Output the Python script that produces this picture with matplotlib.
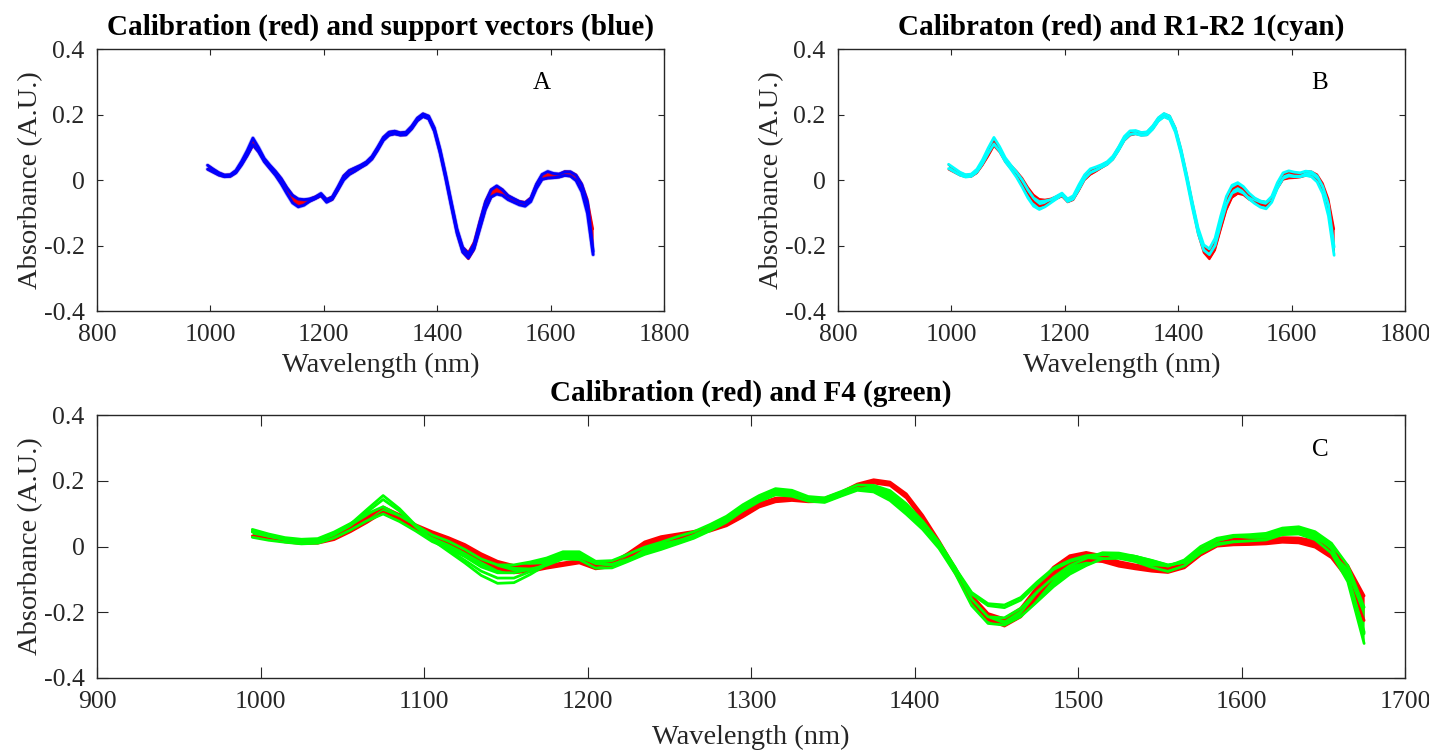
import numpy as np
import matplotlib
matplotlib.use("Agg")
import matplotlib.pyplot as plt

plt.rcParams['font.family'] = ['Liberation Serif', 'DejaVu Serif']

# ---------------------------------------------------------------- data
wavelength = np.arange(995, 1676, 10)  # nm, sampling grid of the spectra

# calibration set (red): lower / upper envelope of the spectra
cal_lo = [0.032, 0.023, 0.014, 0.009, 0.010, 0.021, 0.045, 0.073, 0.104, 0.085, 0.055,
          0.034, 0.013, -0.012, -0.040, -0.066, -0.080, -0.076, -0.066, -0.058, -0.050,
          -0.068, -0.061, -0.032, 0.000, 0.016, 0.026, 0.037, 0.047, 0.063, 0.090,
          0.120, 0.136, 0.140, 0.136, 0.137, 0.155, 0.180, 0.193, 0.186, 0.148,
          0.082, 0.003, -0.082, -0.165, -0.222, -0.242, -0.214, -0.152, -0.092, -0.054,
          -0.042, -0.046, -0.060, -0.068, -0.075, -0.079, -0.065, -0.026, 0.001, 0.005,
          0.006, 0.008, 0.013, 0.011, -0.002, -0.034, -0.098, -0.225]
cal_hi = [0.046, 0.034, 0.023, 0.016, 0.017, 0.030, 0.056, 0.086, 0.120, 0.097, 0.066,
          0.045, 0.027, 0.006, -0.022, -0.045, -0.058, -0.060, -0.057, -0.050, -0.042,
          -0.058, -0.050, -0.020, 0.014, 0.030, 0.038, 0.046, 0.056, 0.073, 0.101,
          0.131, 0.147, 0.150, 0.145, 0.147, 0.165, 0.190, 0.203, 0.196, 0.160,
          0.095, 0.017, -0.067, -0.149, -0.204, -0.220, -0.188, -0.123, -0.063, -0.028,
          -0.018, -0.028, -0.046, -0.056, -0.064, -0.067, -0.053, -0.011, 0.017, 0.023,
          0.019, 0.019, 0.027, 0.026, 0.017, -0.010, -0.058, -0.150]

# support vectors (blue)
sv_lo = [0.033, 0.024, 0.015, 0.010, 0.011, 0.022, 0.046, 0.075, 0.108, 0.086, 0.056,
         0.035, 0.014, -0.012, -0.042, -0.070, -0.082, -0.077, -0.065, -0.057, -0.047,
         -0.068, -0.059, -0.030, 0.000, 0.017, 0.027, 0.038, 0.048, 0.064, 0.091,
         0.121, 0.137, 0.141, 0.137, 0.138, 0.156, 0.181, 0.194, 0.187, 0.149,
         0.083, 0.004, -0.081, -0.163, -0.220, -0.238, -0.210, -0.150, -0.090, -0.052,
         -0.043, -0.047, -0.060, -0.068, -0.076, -0.080, -0.066, -0.026, 0.002, 0.006,
         0.007, 0.009, 0.014, 0.012, -0.002, -0.036, -0.102, -0.228]
sv_hi = [0.045, 0.033, 0.022, 0.015, 0.016, 0.029, 0.057, 0.090, 0.128, 0.099, 0.066,
         0.045, 0.026, 0.004, -0.024, -0.047, -0.058, -0.060, -0.058, -0.052, -0.041,
         -0.060, -0.052, -0.021, 0.012, 0.029, 0.037, 0.045, 0.055, 0.072, 0.100,
         0.130, 0.146, 0.149, 0.144, 0.146, 0.164, 0.189, 0.202, 0.195, 0.159,
         0.094, 0.016, -0.068, -0.150, -0.206, -0.226, -0.196, -0.130, -0.068, -0.030,
         -0.018, -0.030, -0.048, -0.057, -0.066, -0.070, -0.056, -0.013, 0.017, 0.026,
         0.020, 0.018, 0.025, 0.025, 0.014, -0.014, -0.068, -0.218]

# R1-R2 1 set (cyan)
r12_lo = [0.035, 0.025, 0.015, 0.009, 0.011, 0.024, 0.050, 0.082, 0.110, 0.088, 0.056,
          0.033, 0.008, -0.022, -0.055, -0.080, -0.090, -0.082, -0.070, -0.058, -0.046,
          -0.066, -0.058, -0.028, 0.004, 0.022, 0.030, 0.039, 0.048, 0.064, 0.091,
          0.122, 0.139, 0.141, 0.136, 0.138, 0.155, 0.180, 0.193, 0.185, 0.146,
          0.080, 0.000, -0.085, -0.162, -0.214, -0.228, -0.200, -0.135, -0.075, -0.040,
          -0.032, -0.040, -0.058, -0.072, -0.083, -0.088, -0.068, -0.025, 0.005, 0.012,
          0.010, 0.010, 0.014, 0.010, -0.006, -0.042, -0.110, -0.230]
r12_hi = [0.048, 0.036, 0.024, 0.016, 0.018, 0.033, 0.062, 0.098, 0.130, 0.102, 0.068,
          0.045, 0.024, 0.000, -0.030, -0.055, -0.066, -0.064, -0.060, -0.050, -0.040,
          -0.058, -0.048, -0.014, 0.016, 0.034, 0.040, 0.047, 0.056, 0.073, 0.101,
          0.133, 0.150, 0.151, 0.145, 0.147, 0.165, 0.190, 0.203, 0.195, 0.158,
          0.094, 0.016, -0.068, -0.146, -0.198, -0.210, -0.178, -0.110, -0.050, -0.016,
          -0.008, -0.020, -0.040, -0.055, -0.064, -0.068, -0.050, -0.008, 0.022, 0.028,
          0.024, 0.022, 0.027, 0.025, 0.012, -0.020, -0.075, -0.205]

# F4 set (green): main envelope plus two outlying spectra
f4_lo = [0.028, 0.019, 0.013, 0.008, 0.010, 0.026, 0.050, 0.078, 0.099, 0.076, 0.047,
         0.015, -0.006, -0.031, -0.062, -0.080, -0.080, -0.069, -0.057, -0.038, -0.040,
         -0.066, -0.065, -0.045, -0.024, -0.009, 0.008, 0.025, 0.048, 0.074, 0.109,
         0.137, 0.157, 0.153, 0.138, 0.134, 0.153, 0.171, 0.166, 0.140, 0.098,
         0.052, -0.006, -0.083, -0.180, -0.234, -0.239, -0.213, -0.168, -0.122, -0.084,
         -0.058, -0.037, -0.036, -0.046, -0.063, -0.076, -0.059, -0.020, 0.005, 0.014,
         0.017, 0.020, 0.036, 0.038, 0.021, -0.020, -0.107, -0.295]
f4_hi = [0.052, 0.038, 0.027, 0.022, 0.024, 0.044, 0.070, 0.099, 0.121, 0.094, 0.065,
         0.035, 0.016, -0.009, -0.038, -0.056, -0.056, -0.047, -0.035, -0.016, -0.016,
         -0.045, -0.043, -0.023, -0.002, 0.013, 0.030, 0.045, 0.067, 0.092, 0.127,
         0.155, 0.176, 0.171, 0.152, 0.148, 0.167, 0.187, 0.186, 0.170, 0.130,
         0.077, 0.014, -0.064, -0.160, -0.214, -0.217, -0.188, -0.138, -0.094, -0.058,
         -0.036, -0.019, -0.020, -0.030, -0.046, -0.060, -0.041, 0.000, 0.025, 0.034,
         0.036, 0.040, 0.056, 0.060, 0.045, 0.010, -0.058, -0.185]
f4_out1 = [0.046, 0.033, 0.022, 0.016, 0.018, 0.038, 0.068, 0.112, 0.155, 0.115, 0.064,
           0.020, -0.015, -0.050, -0.088, -0.112, -0.110, -0.085, -0.055, -0.035, -0.030,
           -0.052, -0.056, -0.040, -0.020, -0.004, 0.014, 0.032, 0.056, 0.082, 0.116,
           0.146, 0.166, 0.162, 0.146, 0.142, 0.158, 0.175, 0.170, 0.145, 0.105,
           0.060, 0.004, -0.070, -0.145, -0.180, -0.186, -0.163, -0.115, -0.070, -0.046,
           -0.030, -0.025, -0.025, -0.030, -0.042, -0.056, -0.048, -0.012, 0.018, 0.030,
           0.032, 0.035, 0.050, 0.052, 0.035, -0.005, -0.090, -0.260]
f4_out2 = [0.044, 0.031, 0.021, 0.015, 0.017, 0.036, 0.064, 0.104, 0.143, 0.108, 0.060,
           0.022, -0.010, -0.042, -0.075, -0.096, -0.096, -0.076, -0.052, -0.034, -0.028,
           -0.050, -0.054, -0.038, -0.018, -0.002, 0.016, 0.034, 0.058, 0.084, 0.118,
           0.148, 0.168, 0.164, 0.147, 0.143, 0.160, 0.177, 0.172, 0.148, 0.108,
           0.062, 0.006, -0.066, -0.140, -0.174, -0.178, -0.155, -0.108, -0.066, -0.042,
           -0.028, -0.023, -0.024, -0.030, -0.043, -0.057, -0.048, -0.012, 0.018, 0.030,
           0.031, 0.034, 0.049, 0.051, 0.034, -0.006, -0.092, -0.265]

y_ticks = [-0.4, -0.2, 0, 0.2, 0.4]
y_tick_labels = ['-0.4', '-0.2', '0', '0.2', '0.4']
x_ticks_top = [800, 1000, 1200, 1400, 1600, 1800]
x_ticks_bottom = [900, 1000, 1100, 1200, 1300, 1400, 1500, 1600, 1700]

# ---------------------------------------------------------------- styling
AXIS_GREY = '#262626'
TEXT_GREY = '#262626'
RED, BLUE, CYAN, GREEN = '#ff0000', '#0000ff', '#00ffff', '#00ff00'

W, H = 1429, 754
fig = plt.figure(figsize=(W / 100, H / 100), dpi=100)


def px_axes(left, top, right, bottom):
    return fig.add_axes([left / W, 1 - bottom / H, (right - left) / W, (bottom - top) / H])


ax_a = px_axes(97, 49, 664, 311)
ax_b = px_axes(838, 49, 1405, 311)
ax_c = px_axes(97, 415, 1405, 678)


def style(ax, xticks, ticklen, title, letter, letter_x, xlabelpad):
    ax.set_xlim(xticks[0], xticks[-1])
    ax.set_ylim(-0.4, 0.4)
    ax.set_xticks(xticks)
    ax.set_xticklabels([str(t) for t in xticks])
    ax.set_yticks(y_ticks)
    ax.set_yticklabels(y_tick_labels)
    ax.tick_params(direction='in', top=True, right=True, length=ticklen, width=0.8,
                   color=AXIS_GREY, labelcolor=TEXT_GREY, labelsize=18.5)
    ax.tick_params(axis='x', pad=9)
    ax.tick_params(axis='y', pad=9)
    for s in ax.spines.values():
        s.set_color(AXIS_GREY)
        s.set_linewidth(1.0)
    ax.set_xlabel('Wavelength (nm)', fontsize=20.5, color=TEXT_GREY, labelpad=xlabelpad)
    ax.set_ylabel('Absorbance (A.U.)', fontsize=20.5, color=TEXT_GREY, labelpad=0)
    ax.set_title(title, fontsize=21, fontweight='bold', color='black', pad=10)
    ax.text(letter_x, 0.295, letter, fontsize=18, color='black', ha='center', va='center')


def band(ax, lo, hi, color, lw=1.4):
    ax.fill_between(wavelength, lo, hi, color=color, lw=0)
    for edge in (lo, hi):
        ax.plot(wavelength, edge, color=color, lw=lw,
                solid_joinstyle='round', solid_capstyle='round')


# A: calibration and support vectors
band(ax_a, cal_lo, cal_hi, RED)
for sv in (sv_lo, sv_hi):
    ax_a.plot(wavelength, sv, color=BLUE, lw=3.0, alpha=0.3,
              solid_joinstyle='round', solid_capstyle='round')
    ax_a.plot(wavelength, sv, color=BLUE, lw=2.0,
              solid_joinstyle='round', solid_capstyle='round')
style(ax_a, x_ticks_top, 4, 'Calibration (red) and support vectors (blue)', 'A', 1585, 5)

# B: calibration and R1-R2 1
band(ax_b, cal_lo, cal_hi, RED)
band(ax_b, r12_lo, r12_hi, CYAN, lw=2.0)
style(ax_b, x_ticks_top, 4, 'Calibraton (red) and R1-R2 1(cyan)', 'B', 1650, 5)

# C: calibration and F4
band(ax_c, cal_lo, cal_hi, RED, lw=2.0)
band(ax_c, f4_lo, f4_hi, GREEN, lw=2.0)
for out in (f4_out1, f4_out2):
    ax_c.plot(wavelength, out, color=GREEN, lw=2.0,
              solid_joinstyle='round', solid_capstyle='round')
style(ax_c, x_ticks_bottom, 8, 'Calibration (red) and F4 (green)', 'C', 1648, 9)

fig.savefig('out.png', dpi=100)
